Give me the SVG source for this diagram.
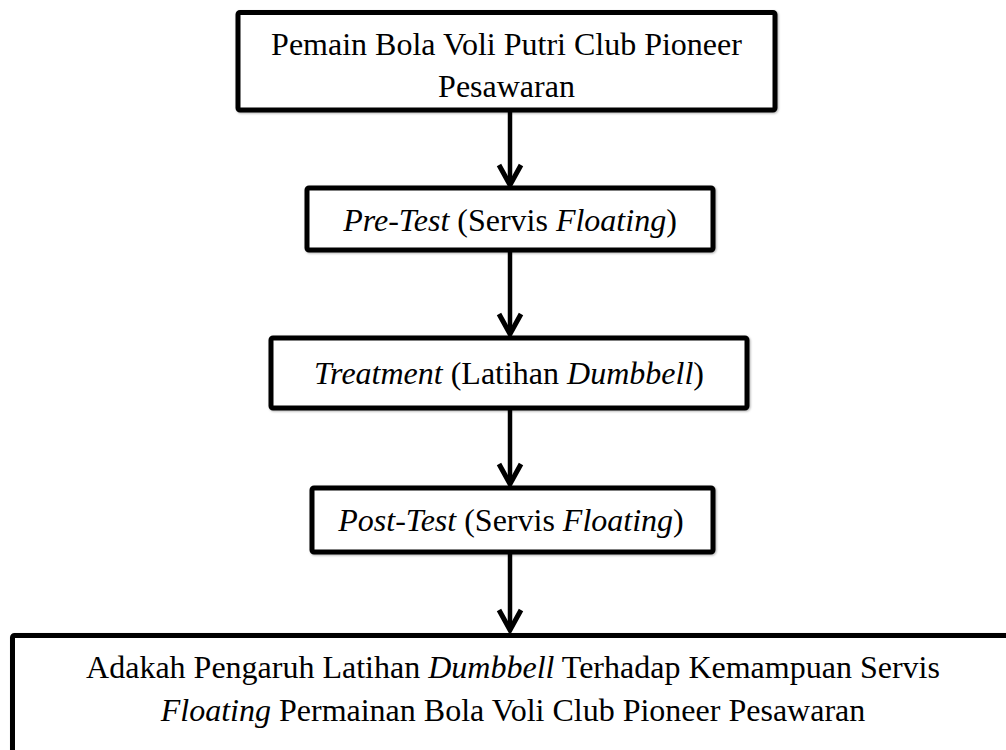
<svg xmlns="http://www.w3.org/2000/svg" width="1006" height="750" viewBox="0 0 1006 750">
  <style>
    .box { fill: #ffffff; stroke: #000000; stroke-width: 5; filter: url(#soft); }
    .lbl { font-family: 'Liberation Serif', 'DejaVu Serif', serif; font-size: 32px; fill: #000000; text-anchor: middle; }
    .it { font-style: italic; }
    .edge { stroke: #000000; stroke-width: 4.5; fill: none; }
  </style>
  <defs>
    <filter id="soft" x="-5%" y="-10%" width="110%" height="120%">
      <feDropShadow dx="1" dy="1" stdDeviation="1" flood-color="#000000" flood-opacity="0.3"/>
    </filter>
    <marker id="arrow" markerUnits="userSpaceOnUse" viewBox="-26 -16 30 32" refX="0" refY="0" markerWidth="30" markerHeight="32" orient="auto">
      <path d="M -20 -11 L 0 0 L -20 11" fill="none" stroke="#000000" stroke-width="5" stroke-linejoin="miter"/>
    </marker>
  </defs>
  <rect x="0" y="0" width="1006" height="750" fill="#ffffff"/>

  <g id="connectors">
    <line class="edge" x1="510" y1="110" x2="510" y2="185" marker-end="url(#arrow)"/>
    <line class="edge" x1="510" y1="250" x2="510" y2="334" marker-end="url(#arrow)"/>
    <line class="edge" x1="510" y1="408" x2="510" y2="484" marker-end="url(#arrow)"/>
    <line class="edge" x1="510" y1="552" x2="510" y2="630" marker-end="url(#arrow)"/>
  </g>

  <g id="node-subjects">
    <rect class="box" x="238" y="12.5" width="537" height="97.5" rx="2"/>
    <text class="lbl" x="506.5" y="55">Pemain Bola Voli Putri Club Pioneer</text>
    <text class="lbl" x="506.5" y="97">Pesawaran</text>
  </g>

  <g id="node-pretest">
    <rect class="box" x="307" y="188" width="406" height="62" rx="2"/>
    <text class="lbl" x="510" y="231"><tspan class="it">Pre-Test</tspan> (Servis <tspan class="it">Floating</tspan>)</text>
  </g>

  <g id="node-treatment">
    <rect class="box" x="271" y="338" width="476" height="70" rx="2"/>
    <text class="lbl" x="509" y="384"><tspan class="it">Treatment</tspan> (Latihan <tspan class="it">Dumbbell</tspan>)</text>
  </g>

  <g id="node-posttest">
    <rect class="box" x="312" y="488" width="401" height="64" rx="2"/>
    <text class="lbl" x="511" y="531"><tspan class="it">Post-Test</tspan> (Servis <tspan class="it">Floating</tspan>)</text>
  </g>

  <g id="node-conclusion">
    <rect class="box" x="12.5" y="635.5" width="1003" height="140" rx="2"/>
    <text class="lbl" x="513" y="678">Adakah Pengaruh Latihan <tspan class="it">Dumbbell</tspan> Terhadap Kemampuan Servis</text>
    <text class="lbl" x="513" y="721"><tspan class="it">Floating</tspan> Permainan Bola Voli Club Pioneer Pesawaran</text>
  </g>
</svg>
